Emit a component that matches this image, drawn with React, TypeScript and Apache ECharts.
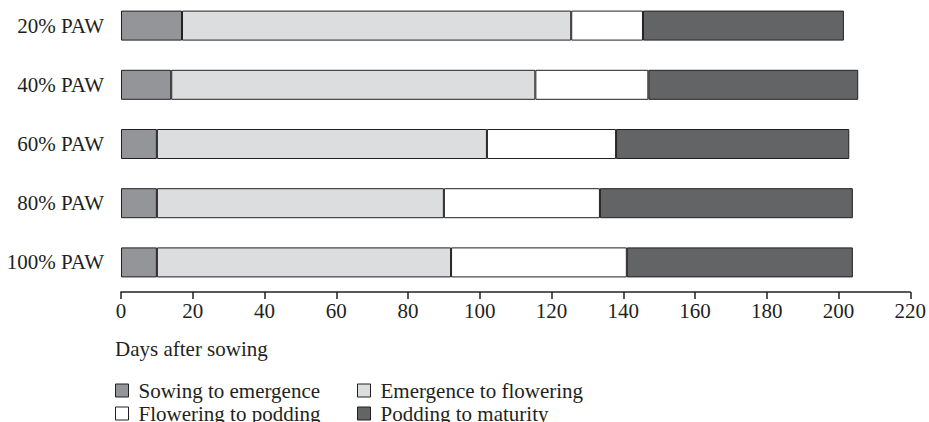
import React, { useEffect, useRef } from "react";
import * as echarts from "echarts";

const categories = ["20% PAW", "40% PAW", "60% PAW", "80% PAW", "100% PAW"];
const sowingToEmergence = [17, 14, 10, 10, 10];
const emergenceToFlowering = [108.5, 101.5, 92, 80, 82];
const floweringToPodding = [20, 31.5, 36, 43.5, 49];
const poddingToMaturity = [56, 58.5, 65, 70.5, 63];
const xTicks = { min: 0, max: 220, interval: 20 };

const seriesNames = [
  "Sowing to emergence",
  "Emergence to flowering",
  "Flowering to podding",
  "Podding to maturity",
];
const seriesColors = ["#939598", "#dcdddf", "#ffffff", "#636466"];

const FONT = "'Liberation Serif', 'DejaVu Serif', serif";
const INK = "#231f20";
const FS = 21;
const SHIFT = 4; // chart div starts 4px above the page top

export default function App() {
  const ref = useRef<HTMLDivElement>(null);
  useEffect(() => {
    if (!ref.current) return;
    const chart = echarts.init(ref.current, undefined, { renderer: "svg" });
    const values = [sowingToEmergence, emergenceToFlowering, floweringToPodding, poddingToMaturity];
    const legendPos = [
      { left: 115, top: 380 },
      { left: 357, top: 380 },
      { left: 115, top: 403 },
      { left: 357, top: 403 },
    ];
    chart.setOption({
      animation: false,
      backgroundColor: "#ffffff",
      textStyle: { fontFamily: FONT, color: INK },
      title: {
        text: "Days after sowing",
        left: 115,
        top: 338 + SHIFT,
        padding: 0,
        textStyle: { fontFamily: FONT, fontSize: FS, fontWeight: "normal", color: INK },
      },
      legend: seriesNames.map((n, i) => ({
        data: [n],
        left: legendPos[i].left,
        top: legendPos[i].top + SHIFT,
        padding: 0,
        icon: "rect",
        itemWidth: 13,
        itemHeight: 13,
        itemGap: 0,
        selectedMode: false,
        itemStyle: { borderColor: INK, borderWidth: 1 },
        textStyle: { fontFamily: FONT, fontSize: FS, color: INK, padding: [0, 0, 0, 5] },
      })),
      grid: { left: 121, right: 16, top: 0, bottom: 130, containLabel: false },
      xAxis: {
        type: "value",
        min: xTicks.min,
        max: xTicks.max,
        interval: xTicks.interval,
        splitLine: { show: false },
        axisLine: { show: true, lineStyle: { color: INK, width: 1.5 } },
        axisTick: { show: true, length: 7, lineStyle: { color: INK, width: 1.5 } },
        axisLabel: { fontFamily: FONT, fontSize: FS, color: INK, margin: 8 },
      },
      yAxis: {
        type: "category",
        data: categories,
        inverse: true,
        axisLine: { show: false },
        axisTick: { show: false },
        axisLabel: { fontFamily: FONT, fontSize: FS, color: INK, margin: 17 },
      },
      series: seriesNames.map((n, i) => ({
        name: n,
        type: "bar",
        stack: "total",
        barWidth: 30,
        data: values[i],
        itemStyle: { color: seriesColors[i], borderColor: INK, borderWidth: 1 },
        emphasis: { disabled: true },
      })),
    });
    return () => chart.dispose();
  }, []);
  return (
    <div style={{ position: "absolute", left: 0, top: 0, width: 929, height: 422, overflow: "hidden", background: "#fff" }}>
      <div ref={ref} style={{ width: 929, height: 422 + SHIFT, position: "absolute", left: 0, top: -SHIFT }} />
    </div>
  );
}
